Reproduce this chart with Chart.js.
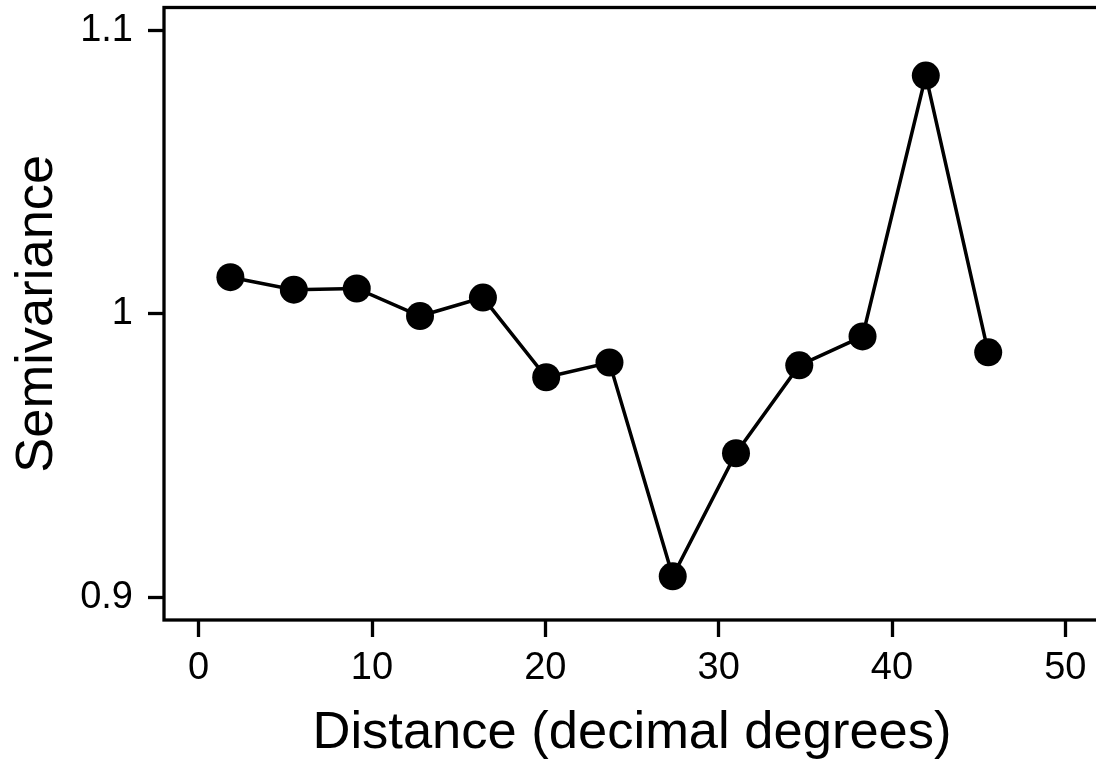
<!DOCTYPE html>
<html>
<head>
<meta charset="utf-8">
<script src="https://cdn.jsdelivr.net/npm/chart.js@4.4.0/dist/chart.umd.min.js"></script>
<style>
    body { margin: 0; background: #fff; }
    #wrap { width: 1096px; height: 765px; overflow: hidden; }
</style>
</head>
<body>
<div id="wrap">
    <canvas id="myChart" width="1104" height="765"></canvas>
</div>
<script>
// distance lags and semivariance values
let distances = [1.83, 5.49, 9.12, 12.77, 16.4, 20.05, 23.7, 27.35, 31.0, 34.65, 38.3, 41.95, 45.55],
    semivariance = [1.0129, 1.0085, 1.0089, 0.9992, 1.0057, 0.9776, 0.9828, 0.9074, 0.9508, 0.9818, 0.9920, 1.0840, 0.9864],
    xTicks = [0, 10, 20, 30, 40, 50],
    xTickLabels = ["0", "10", "20", "30", "40", "50"],
    yTicks = [0.9, 1, 1.1],
    yTickLabels = ["0.9", "1", "1.1"];

let fontFamily = "'Liberation Sans', Arial, Helvetica, sans-serif";

let points = [];
for (let i = 0; i < distances.length; i++) {
    points.push({ x: distances[i], y: semivariance[i] });
}

// box round the plot region (like R's box())
let frameBox = {
    id: "frameBox",
    afterDraw: function (chart) {
        let a = chart.chartArea, ctx = chart.ctx;
        ctx.save();
        ctx.strokeStyle = "#000";
        ctx.lineWidth = 3.3;
        ctx.strokeRect(a.left, a.top, a.right - a.left, a.bottom - a.top);
        ctx.restore();
    }
};

let ctx = document.getElementById("myChart");
let myChart = new Chart(ctx, {
    type: "line",
    data: {
        datasets: [{
            data: points,
            borderColor: "#000",
            borderWidth: 3.5,
            backgroundColor: "#000",
            pointBackgroundColor: "#000",
            pointBorderWidth: 0,
            pointRadius: 14,
            tension: 0,
            fill: false
        }]
    },
    options: {
        responsive: false,
        animation: false,
        devicePixelRatio: 1,
        layout: { autoPadding: false, padding: { top: 7.5, right: 4, left: 0, bottom: 0 } },
        plugins: { legend: { display: false }, tooltip: { enabled: false } },
        scales: {
            x: {
                type: "linear",
                min: -2,
                max: 52,
                afterFit: function (scale) {
                    scale.height = 145;
                    scale.paddingLeft = 0;
                    scale.paddingRight = 0;
                },
                afterBuildTicks: function (scale) {
                    scale.ticks = xTicks.map(function (v) { return { value: v }; });
                },
                ticks: {
                    color: "#000",
                    padding: 9,
                    maxRotation: 0,
                    font: { family: fontFamily, size: 38 },
                    callback: function (v) { return xTickLabels[xTicks.indexOf(v)]; }
                },
                grid: { drawOnChartArea: false, drawTicks: true, tickLength: 17, tickWidth: 3.3, tickColor: "#000" },
                border: { display: false },
                title: {
                    display: true,
                    text: "Distance (decimal degrees)",
                    color: "#000",
                    font: { family: fontFamily, size: 52.5 },
                    padding: { top: 0, bottom: 0 }
                }
            },
            y: {
                type: "linear",
                min: 0.892,
                max: 1.108,
                afterFit: function (scale) {
                    scale.width = 164;
                    scale.paddingTop = 0;
                    scale.paddingBottom = 0;
                },
                afterBuildTicks: function (scale) {
                    scale.ticks = yTicks.map(function (v) { return { value: v }; });
                },
                ticks: {
                    color: "#000",
                    padding: 15,
                    font: { family: fontFamily, size: 38 },
                    callback: function (v) { return yTickLabels[yTicks.indexOf(v)]; }
                },
                grid: { drawOnChartArea: false, drawTicks: true, tickLength: 16, tickWidth: 3.3, tickColor: "#000" },
                border: { display: false },
                title: {
                    display: true,
                    text: "Semivariance",
                    color: "#000",
                    font: { family: fontFamily, size: 52.5 },
                    padding: { top: 6, bottom: 0 }
                }
            }
        }
    },
    plugins: [frameBox]
});
</script>
</body>
</html>
